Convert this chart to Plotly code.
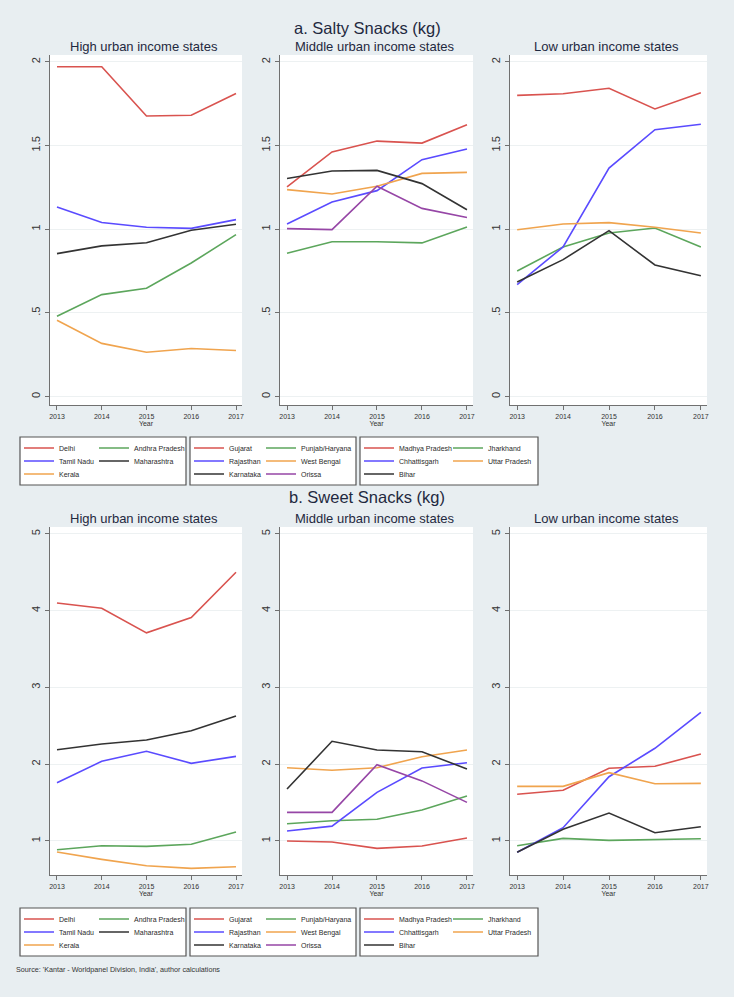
import plotly.graph_objects as go

W, H = 734, 997
years = [2013, 2014, 2015, 2016, 2017]

# ---------------- a. Salty snacks (kg) ----------------
# High urban income states
salty_delhi = [1.97, 1.97, 1.676, 1.68, 1.81]
salty_andhra = [0.48, 0.609, 0.647, 0.798, 0.967]
salty_tamilnadu = [1.133, 1.04, 1.011, 1.005, 1.057]
salty_maharashtra = [0.854, 0.90, 0.919, 0.993, 1.029]
salty_kerala = [0.456, 0.318, 0.265, 0.287, 0.275]
# Middle urban income states
salty_gujarat = [1.252, 1.461, 1.526, 1.514, 1.624]
salty_punjab = [0.856, 0.925, 0.925, 0.918, 1.013]
salty_rajasthan = [1.031, 1.162, 1.23, 1.415, 1.479]
salty_westbengal = [1.236, 1.21, 1.256, 1.333, 1.339]
salty_karnataka = [1.303, 1.347, 1.351, 1.272, 1.116]
salty_orissa = [1.003, 0.997, 1.256, 1.124, 1.07]
# Low urban income states
salty_mp = [1.799, 1.809, 1.841, 1.718, 1.815]
salty_jharkhand = [0.75, 0.894, 0.977, 1.007, 0.894]
salty_chhattisgarh = [0.669, 0.894, 1.365, 1.594, 1.626]
salty_up = [0.997, 1.031, 1.039, 1.011, 0.977]
salty_bihar = [0.685, 0.818, 0.991, 0.786, 0.722]

# ---------------- b. Sweet snacks (kg) ----------------
sweet_delhi = [4.10, 4.03, 3.71, 3.91, 4.50]
sweet_andhra = [0.883, 0.935, 0.926, 0.953, 1.113]
sweet_tamilnadu = [1.756, 2.035, 2.166, 2.009, 2.10]
sweet_maharashtra = [2.187, 2.26, 2.313, 2.434, 2.626]
sweet_kerala = [0.853, 0.757, 0.674, 0.64, 0.661]
sweet_gujarat = [0.996, 0.983, 0.90, 0.931, 1.035]
sweet_punjab = [1.222, 1.261, 1.279, 1.40, 1.583]
sweet_rajasthan = [1.126, 1.19, 1.63, 1.948, 2.017]
sweet_westbengal = [1.952, 1.918, 1.952, 2.095, 2.183]
sweet_karnataka = [1.674, 2.296, 2.183, 2.16, 1.935]
sweet_orissa = [1.37, 1.37, 1.99, 1.78, 1.50]
sweet_mp = [1.605, 1.657, 1.944, 1.97, 2.13]
sweet_jharkhand = [0.935, 1.03, 1.005, 1.013, 1.026]
sweet_chhattisgarh = [0.849, 1.17, 1.834, 2.205, 2.674]
sweet_up = [1.709, 1.709, 1.887, 1.743, 1.748]
sweet_bihar = [0.849, 1.149, 1.361, 1.104, 1.183]

panel_titles = ["High urban income states", "Middle urban income states", "Low urban income states"]
section_titles = ["a. Salty Snacks (kg)", "b. Sweet Snacks (kg)"]
salty_ticks = [0, 0.5, 1, 1.5, 2]
salty_ticktext = ["0", ".5", "1", "1.5", "2"]
sweet_ticks = [1, 2, 3, 4, 5]
sweet_ticktext = ["1", "2", "3", "4", "5"]
source_text = "Source: 'Kantar - Worldpanel Division, India', author calculations"

RED, GREEN, BLUE, BLACK, ORANGE, PURPLE = "#D9534F", "#5CA65C", "#5A4BFF", "#333333", "#F0A44E", "#9646A6"

# (name, color, salty series, sweet series, legend row, legend column)
high_series = [
    ("Delhi", RED, salty_delhi, sweet_delhi, 0, 0),
    ("Andhra Pradesh", GREEN, salty_andhra, sweet_andhra, 0, 1),
    ("Tamil Nadu", BLUE, salty_tamilnadu, sweet_tamilnadu, 1, 0),
    ("Maharashtra", BLACK, salty_maharashtra, sweet_maharashtra, 1, 1),
    ("Kerala", ORANGE, salty_kerala, sweet_kerala, 2, 0),
]
middle_series = [
    ("Gujarat", RED, salty_gujarat, sweet_gujarat, 0, 0),
    ("Punjab/Haryana", GREEN, salty_punjab, sweet_punjab, 0, 1),
    ("Rajasthan", BLUE, salty_rajasthan, sweet_rajasthan, 1, 0),
    ("West Bengal", ORANGE, salty_westbengal, sweet_westbengal, 1, 1),
    ("Karnataka", BLACK, salty_karnataka, sweet_karnataka, 2, 0),
    ("Orissa", PURPLE, salty_orissa, sweet_orissa, 2, 1),
]
low_series = [
    ("Madhya Pradesh", RED, salty_mp, sweet_mp, 0, 0),
    ("Jharkhand", GREEN, salty_jharkhand, sweet_jharkhand, 0, 1),
    ("Chhattisgarh", BLUE, salty_chhattisgarh, sweet_chhattisgarh, 1, 0),
    ("Uttar Pradesh", ORANGE, salty_up, sweet_up, 1, 1),
    ("Bihar", BLACK, salty_bihar, sweet_bihar, 2, 0),
]
groups = [high_series, middle_series, low_series]

# ---------------- layout geometry (pixels) ----------------
x_px = [(50, 242), (280, 473), (510, 707)]
y_px = [(55, 405), (527, 875)]          # top, bottom plot areas
y_ranges = [[-0.05, 2.04], [0.553, 5.09]]
x_range = [2012.844, 2017.134]
legend_box = [(20, 166, 79), (190, 166, 76), (360, 178, 93)]   # left, width, col-2 offset
legend_top = [437, 908]
row_off = [11, 24, 37]

FONT = "Liberation Sans, Arial, sans-serif"
BG = "#E8EEF1"
AXIS = "#707070"


def px_x(x):
    return x / W


def px_y(y):
    return 1 - y / H


fig = go.Figure()
layout = dict(
    width=W, height=H, template="none",
    paper_bgcolor=BG, plot_bgcolor="white",
    margin=dict(l=0, r=0, t=0, b=0),
    showlegend=True,
    font=dict(family=FONT, color="#333333"),
)

annotations = []
shapes = []
legend_idx = 0
for r in range(2):
    for c in range(3):
        k = r * 3 + c + 1
        xa = "x" if k == 1 else f"x{k}"
        ya = "y" if k == 1 else f"y{k}"
        bx0, bw, c2 = legend_box[c]
        for name, color, salty, sweet, row, col in groups[c]:
            legend_idx += 1
            lname = "legend" if legend_idx == 1 else f"legend{legend_idx}"
            line_start = bx0 + (4 if col == 0 else c2)
            layout[lname] = dict(
                x=px_x(line_start - 5), y=px_y(legend_top[r] + row_off[row]),
                xanchor="left", yanchor="middle", orientation="h",
                bgcolor="rgba(0,0,0,0)", borderwidth=0, tracegroupgap=0,
                font=dict(family=FONT, size=7, color="#2A2A2A"),
                itemclick=False, itemdoubleclick=False,
            )
            vals = salty if r == 0 else sweet
            fig.add_trace(go.Scatter(
                x=years, y=vals, mode="lines", name=name,
                line=dict(color=color, width=1.6),
                xaxis=xa, yaxis=ya, legend=lname, showlegend=True,
            ))
        x0, x1 = x_px[c]
        yt, yb = y_px[r]
        axkey = "xaxis" if k == 1 else f"xaxis{k}"
        aykey = "yaxis" if k == 1 else f"yaxis{k}"
        layout[axkey] = dict(
            domain=[px_x(x0), px_x(x1)], anchor=ya, range=x_range,
            tickvals=years, ticks="outside", ticklen=4, tickcolor=AXIS, tickwidth=1,
            showline=True, linecolor=AXIS, linewidth=1.3, showgrid=False, zeroline=False,
            tickfont=dict(size=7, color="#333333"),
            title=dict(text="Year", font=dict(size=7, color="#333333"), standoff=0),
            automargin=False,
        )
        layout[aykey] = dict(
            domain=[px_y(yb), px_y(yt)], anchor=xa, range=y_ranges[r],
            tickvals=salty_ticks if r == 0 else sweet_ticks,
            ticktext=salty_ticktext if r == 0 else sweet_ticktext,
            tickangle=-90, ticks="outside", ticklen=4, tickcolor=AXIS, tickwidth=1,
            showline=True, linecolor=AXIS, linewidth=1.3,
            showgrid=True, gridcolor="#EDF1F2", gridwidth=1, zeroline=False,
            tickfont=dict(size=11, color="#333333"),
            automargin=False,
        )
        # panel subtitle
        annotations.append(dict(
            text=panel_titles[c], x=px_x((x0 + x1) / 2 - 2), y=px_y(yt - 9),
            xref="paper", yref="paper", showarrow=False, xanchor="center", yanchor="middle",
            font=dict(family=FONT, size=13, color="#1F2940"),
        ))
        # legend box
        shapes.append(dict(
            type="rect", xref="paper", yref="paper", layer="below",
            x0=px_x(bx0), x1=px_x(bx0 + bw), y0=px_y(legend_top[r]), y1=px_y(legend_top[r] + 48),
            line=dict(color="#555555", width=1.2), fillcolor="white",
        ))

for r, t in enumerate(section_titles):
    annotations.append(dict(
        text=t, x=0.5, y=px_y(28 if r == 0 else 497),
        xref="paper", yref="paper", showarrow=False, xanchor="center", yanchor="middle",
        font=dict(family=FONT, size=16.5, color="#1F2940"),
    ))

annotations.append(dict(
    text=source_text, x=px_x(14), y=px_y(969), xref="paper", yref="paper",
    showarrow=False, xanchor="left", yanchor="middle",
    font=dict(family=FONT, size=7.2, color="#333333"),
))

layout["annotations"] = annotations
layout["shapes"] = shapes
fig.update_layout(**layout)
fig.write_html(
    "out.html",
    config={"displayModeBar": False},
    post_script="document.body.style.margin='0';document.body.style.padding='0';document.body.style.overflow='hidden';",
)
